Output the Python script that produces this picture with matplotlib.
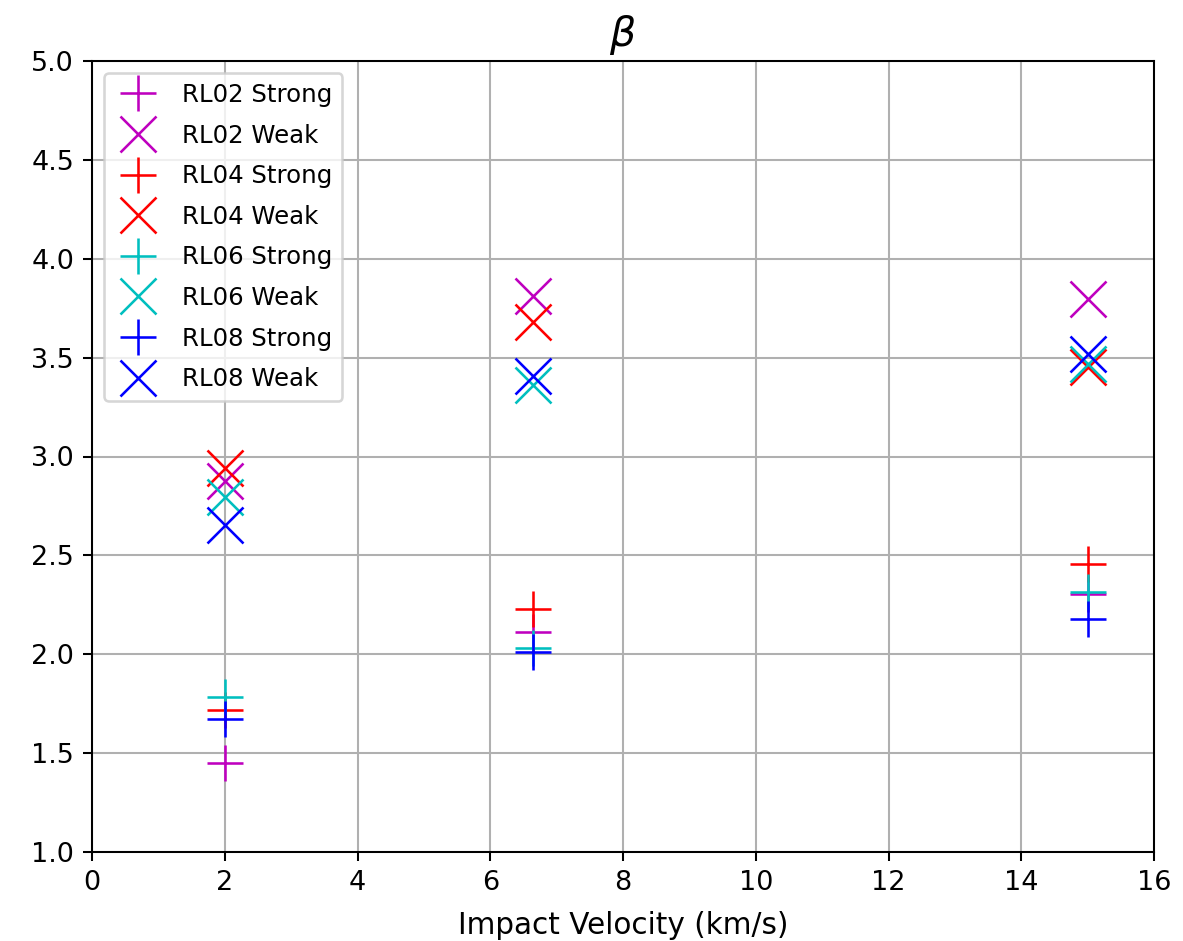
import matplotlib
matplotlib.use("Agg")
import matplotlib.pyplot as plt

velocities = [2.0, 6.64, 15.0]
labels = ["RL02", "RL04", "RL06", "RL08"]
colors = ["m", "r", "c", "b"]
strong = {
    "RL02": [1.45, 2.11, 2.305],
    "RL04": [1.72, 2.23, 2.455],
    "RL06": [1.785, 2.03, 2.315],
    "RL08": [1.675, 2.01, 2.18],
}
weak = {
    "RL02": [2.875, 3.81, 3.795],
    "RL04": [2.94, 3.68, 3.455],
    "RL06": [2.795, 3.36, 3.47],
    "RL08": [2.655, 3.405, 3.52],
}

dpi = 185
fig = plt.figure(figsize=(1183 / dpi, 941 / dpi), dpi=dpi)
ax = fig.add_axes([92 / 1183, 1 - 852 / 941, (1154 - 92) / 1183, (852 - 61) / 941])
for lab, col in zip(labels, colors):
    ax.plot(velocities, strong[lab], linestyle="none", marker="+", color=col,
            markersize=14, label=f"{lab} Strong")
    ax.plot(velocities, weak[lab], linestyle="none", marker="x", color=col,
            markersize=14, label=f"{lab} Weak")
ax.set_xlim(0, 16)
ax.set_ylim(1.0, 5.0)
ax.grid(True)
ax.tick_params(labelsize=10.5)
ax.set_xlabel("Impact Velocity (km/s)", fontsize=11.5, labelpad=6)
ax.set_title(r"$\beta$", fontsize=16)
ax.legend(loc="upper left", fontsize=9.5, labelspacing=0.68)
fig.savefig("out.png", dpi=dpi)
